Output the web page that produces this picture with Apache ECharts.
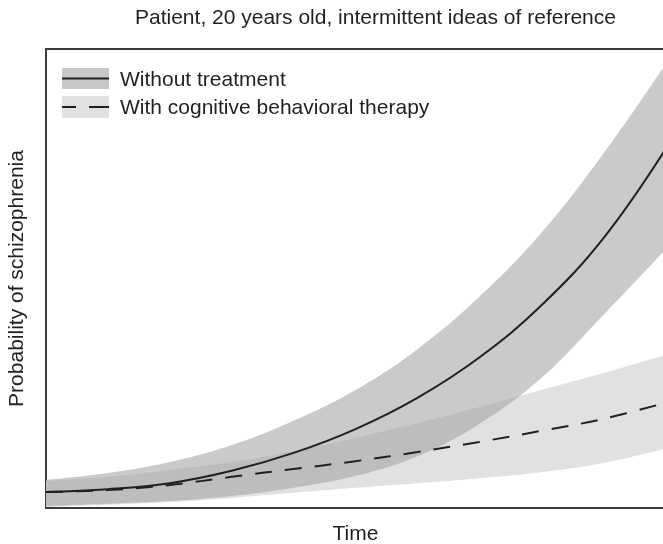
<!DOCTYPE html>
<html>
<head>
<meta charset="utf-8">
<script src="https://cdn.jsdelivr.net/npm/echarts@6/dist/echarts.min.js"></script>
<style>
  html, body { margin: 0; padding: 0; background: #fff; }
  #chart { width: 663px; height: 544px; }
</style>
</head>
<body>
<div id="chart"></div>
<script>
// time steps (arbitrary units, 0..100) and probability (arbitrary, 0..100)
const timeSteps = ['0', '10', '20', '30', '40', '50', '60', '70', '80', '90', '100']

const noTreatMean  = [3.5, 4.1, 5.4, 8.1, 12.0, 17.2, 24.0, 32.8, 44.1, 58.7, 78.0]
const noTreatUpper = [6.1, 7.6, 10.0, 13.7, 19.0, 25.7, 34.6, 46.0, 59.9, 77.1, 96.5]
const noTreatLower = [0.4, 0.9, 1.5, 2.6, 4.4, 7.0, 11.3, 18.3, 28.3, 42.0, 56.2]

const cbtMean  = [3.5, 3.9, 5.0, 6.8, 8.5, 10.2, 12.2, 14.4, 16.8, 19.4, 22.9]
const cbtUpper = [5.9, 6.8, 8.3, 10.0, 12.4, 15.3, 18.5, 22.0, 25.7, 29.4, 33.3]
const cbtLower = [0.2, 0.7, 1.3, 2.2, 3.3, 4.4, 5.4, 6.5, 7.8, 9.8, 12.9]

const titleText = 'Patient, 20 years old, intermittent ideas of reference'
const legendNames = ['Without treatment', 'With cognitive behavioral therapy']

const ink = '#231f20'
const font = 'Liberation Sans, Arial, sans-serif'
const darkBand = 'rgba(160,161,161,0.57)'
const lightBand = '#e0e1e1'

const spread = (up, lo) => up.map((v, i) => +(v - lo[i]).toFixed(2))

const chart = echarts.init(document.getElementById('chart'))

const curve = { type: 'line', smooth: 0.4, symbol: 'none' }

chart.setOption({
  backgroundColor: '#fff',
  animation: false,
  title: {
    text: titleText,
    left: 130,
    top: 3,
    textStyle: { color: ink, fontSize: 21, fontWeight: 'normal', fontFamily: font }
  },
  grid: {
    left: 46, top: 49, right: -2, bottom: 36,
    containLabel: false, outerBoundsMode: 'none',
    show: true, borderColor: '#3a3a3a', borderWidth: 2
  },
  xAxis: {
    type: 'category', data: timeSteps, boundaryGap: false,
    name: 'Time', nameLocation: 'middle', nameGap: 16,
    nameTextStyle: { color: ink, fontSize: 21, fontFamily: font },
    axisLine: { show: false }, axisTick: { show: false }, axisLabel: { show: false },
    splitLine: { show: false }
  },
  yAxis: {
    type: 'value', min: 0, max: 100,
    name: 'Probability of schizophrenia', nameLocation: 'middle', nameGap: 18,
    nameTextStyle: { color: ink, fontSize: 21, fontFamily: font },
    axisLine: { show: false }, axisTick: { show: false }, axisLabel: { show: false },
    splitLine: { show: false }
  },
  series: [
    // CBT band
    { ...curve, stack: 'cbt', data: cbtLower, lineStyle: { opacity: 0 }, silent: true, z: 1 },
    { ...curve, stack: 'cbt', data: spread(cbtUpper, cbtLower), lineStyle: { opacity: 0 },
      areaStyle: { color: lightBand, opacity: 1 }, silent: true, z: 1 },
    // no-treatment band
    { ...curve, stack: 'nt', data: noTreatLower, lineStyle: { opacity: 0 }, silent: true, z: 2 },
    { ...curve, stack: 'nt', data: spread(noTreatUpper, noTreatLower), lineStyle: { opacity: 0 },
      areaStyle: { color: darkBand, opacity: 1 }, silent: true, z: 2 },
    // mean lines
    { ...curve, name: legendNames[0], data: noTreatMean, lineStyle: { color: ink, width: 2 }, z: 5 },
    { ...curve, name: legendNames[1], data: cbtMean, lineStyle: { color: ink, width: 2, type: [17, 13] }, z: 5 }
  ],
  graphic: [
    { type: 'rect', shape: { x: 62, y: 68, width: 47, height: 21 }, style: { fill: '#c6c7c7' } },
    { type: 'line', shape: { x1: 62, y1: 78.5, x2: 109, y2: 78.5 }, style: { stroke: ink, lineWidth: 2 } },
    { type: 'text', x: 120, y: 80, style: { text: legendNames[0], fill: ink, fontSize: 21, fontFamily: font, verticalAlign: 'middle' } },
    { type: 'rect', shape: { x: 62, y: 96, width: 47, height: 22 }, style: { fill: lightBand } },
    { type: 'line', shape: { x1: 62, y1: 107, x2: 76, y2: 107 }, style: { stroke: ink, lineWidth: 2 } },
    { type: 'line', shape: { x1: 89, y1: 107, x2: 109, y2: 107 }, style: { stroke: ink, lineWidth: 2 } },
    { type: 'text', x: 120, y: 108, style: { text: legendNames[1], fill: ink, fontSize: 21, fontFamily: font, verticalAlign: 'middle' } }
  ]
})

window.addEventListener('resize', () => chart.resize())
</script>
</body>
</html>
